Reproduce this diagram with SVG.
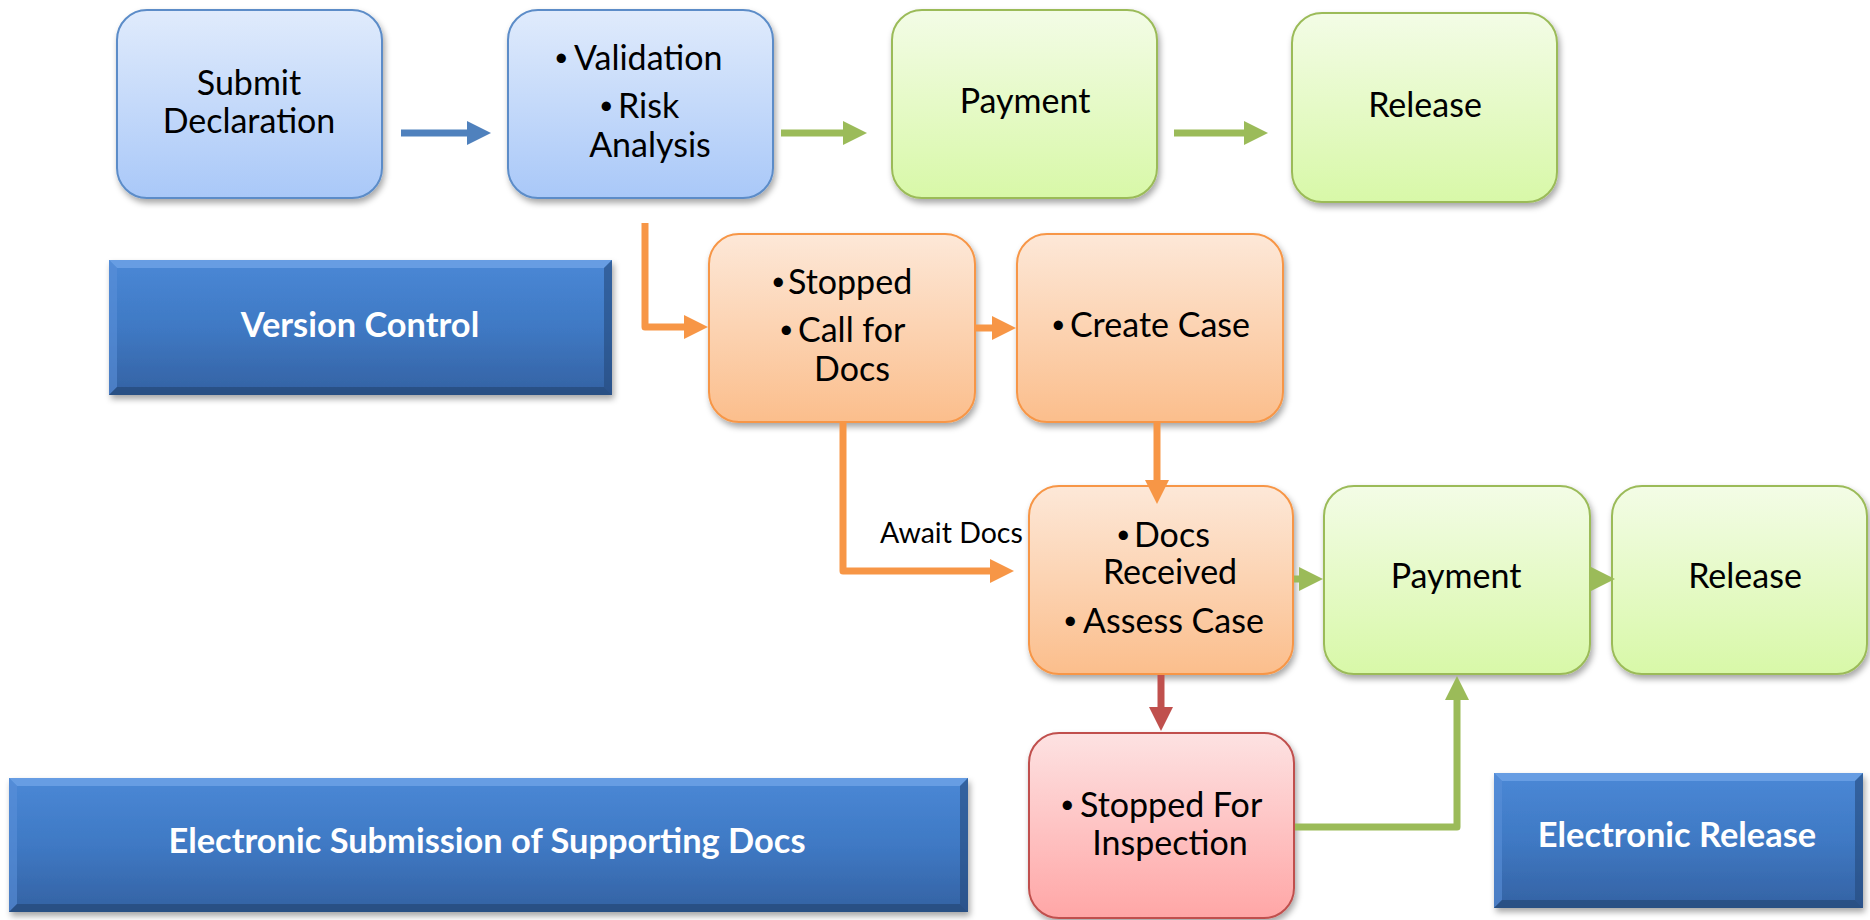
<svg xmlns="http://www.w3.org/2000/svg" width="1870" height="920" viewBox="0 0 1870 920">
<defs>
<style>
.t{font-family:Lato,"Liberation Sans",sans-serif;font-size:34px;fill:#000}
.b{font-size:25px}
.m{text-anchor:middle}
.w{font-family:Lato,"Liberation Sans",sans-serif;font-size:34.4px;font-weight:bold;fill:#fff;text-anchor:middle}
.lbl{font-family:Lato,"Liberation Sans",sans-serif;font-size:28.5px;fill:#000}
.bx{stroke-width:2}
.blue{fill:url(#gBlue);stroke:#5b8cc8}
.green{fill:url(#gGreen);stroke:#9bbb59}
.orange{fill:url(#gOrange);stroke:#f79646}
.red{fill:url(#gRed);stroke:#c0504d}
.bev{fill:url(#gBev)}
.c{fill:none;stroke-width:7}
</style>
<linearGradient id="gBlue" x1="0" y1="0" x2="0" y2="1"><stop offset="0" stop-color="#e0ebfc"/><stop offset="1" stop-color="#a9c8f8"/></linearGradient>
<linearGradient id="gGreen" x1="0" y1="0" x2="0" y2="1"><stop offset="0" stop-color="#f3fce6"/><stop offset="1" stop-color="#d8f8a8"/></linearGradient>
<linearGradient id="gOrange" x1="0" y1="0" x2="0" y2="1"><stop offset="0" stop-color="#fde8d8"/><stop offset="1" stop-color="#fbbe8c"/></linearGradient>
<linearGradient id="gRed" x1="0" y1="0" x2="0" y2="1"><stop offset="0" stop-color="#fde2e2"/><stop offset="1" stop-color="#ffa6a6"/></linearGradient>
<linearGradient id="gBev" x1="0" y1="0" x2="0" y2="1"><stop offset="0" stop-color="#4a88d6"/><stop offset="0.5" stop-color="#3f79c4"/><stop offset="1" stop-color="#3462a3"/></linearGradient>
<filter id="sh" x="-10%" y="-10%" width="125%" height="130%"><feDropShadow dx="2" dy="4" stdDeviation="3" flood-color="#000" flood-opacity="0.35"/></filter>
<marker id="aBlue" markerUnits="userSpaceOnUse" markerWidth="26" markerHeight="26" refX="1" refY="12" orient="auto" viewBox="0 0 26 24"><path d="M0,0 L24,12 L0,24 Z" fill="#4f81bd"/></marker>
<marker id="aGreen" markerUnits="userSpaceOnUse" markerWidth="26" markerHeight="26" refX="1" refY="12" orient="auto" viewBox="0 0 26 24"><path d="M0,0 L24,12 L0,24 Z" fill="#9bbb59"/></marker>
<marker id="aOrange" markerUnits="userSpaceOnUse" markerWidth="26" markerHeight="26" refX="1" refY="12" orient="auto" viewBox="0 0 26 24"><path d="M0,0 L24,12 L0,24 Z" fill="#f79646"/></marker>
<marker id="aRed" markerUnits="userSpaceOnUse" markerWidth="26" markerHeight="26" refX="1" refY="12" orient="auto" viewBox="0 0 26 24"><path d="M0,0 L24,12 L0,24 Z" fill="#c0504d"/></marker>
</defs>
<rect width="1870" height="920" fill="#fff"/>

<g id="submit">
<rect class="bx blue" x="117" y="10" width="265" height="188" rx="30" filter="url(#sh)"/>
<text class="t m" x="249" y="95">Submit</text>
<text class="t m" x="249" y="133">Declaration</text>
</g>

<g id="validation">
<rect class="bx blue" x="508" y="10" width="265" height="188" rx="30" filter="url(#sh)"/>
<text class="t" y="70"><tspan class="b" x="554" dy="-4">•</tspan><tspan x="574" dy="4">Validation</tspan></text>
<text class="t" y="118"><tspan class="b" x="599" dy="-4">•</tspan><tspan x="618" dy="4">Risk</tspan></text>
<text class="t m" x="650" y="157">Analysis</text>
</g>

<g id="payment1">
<rect class="bx green" x="892" y="10" width="265" height="188" rx="30" filter="url(#sh)"/>
<text class="t m" x="1025" y="113">Payment</text>
</g>

<g id="release1">
<rect class="bx green" x="1292" y="13" width="265" height="189" rx="30" filter="url(#sh)"/>
<text class="t m" x="1425" y="117">Release</text>
</g>

<g id="version-control">
<rect class="bev" x="109" y="260" width="503" height="135" filter="url(#sh)"/>
<polygon points="109,260 612,260 604,268 117,268" fill="#6fa3e6" opacity="0.8"/>
<polygon points="109,260 117,268 117,387 109,395" fill="#5a90d8" opacity="0.6"/>
<polygon points="612,260 612,395 604,387 604,268" fill="#24497c" opacity="0.6"/>
<polygon points="109,395 117,387 604,387 612,395" fill="#22446f" opacity="0.6"/>
<text class="w" x="360" y="337">Version Control</text>
</g>

<g id="stopped">
<rect class="bx orange" x="709" y="234" width="266" height="188" rx="30" filter="url(#sh)"/>
<text class="t" y="294"><tspan class="b" x="771" dy="-4">•</tspan><tspan x="788" dy="4">Stopped</tspan></text>
<text class="t" y="342"><tspan class="b" x="779" dy="-4">•</tspan><tspan x="798" dy="4">Call for</tspan></text>
<text class="t m" x="852" y="381">Docs</text>
</g>

<g id="create-case">
<rect class="bx orange" x="1017" y="234" width="266" height="188" rx="30" filter="url(#sh)"/>
<text class="t" y="337"><tspan class="b" x="1051" dy="-4">•</tspan><tspan x="1070" dy="4">Create Case</tspan></text>
</g>

<g id="docs-received">
<rect class="bx orange" x="1029" y="486" width="264" height="188" rx="30" filter="url(#sh)"/>
<text class="t" y="547"><tspan class="b" x="1116" dy="-4">•</tspan><tspan x="1134" dy="4">Docs</tspan></text>
<text class="t m" x="1170" y="584">Received</text>
<text class="t" y="633"><tspan class="b" x="1063" dy="-4">•</tspan><tspan x="1083" dy="4">Assess Case</tspan></text>
</g>

<g id="payment2">
<rect class="bx green" x="1324" y="486" width="266" height="188" rx="30" filter="url(#sh)"/>
<text class="t m" x="1456" y="588">Payment</text>
</g>

<g id="release2">
<rect class="bx green" x="1612" y="486" width="255" height="188" rx="30" filter="url(#sh)"/>
<text class="t m" x="1745" y="588">Release</text>
</g>

<g id="inspection">
<rect class="bx red" x="1029" y="733" width="265" height="185" rx="30" filter="url(#sh)"/>
<text class="t" y="817"><tspan class="b" x="1060" dy="-4">•</tspan><tspan x="1080" dy="4">Stopped For</tspan></text>
<text class="t m" x="1170" y="855">Inspection</text>
</g>

<g id="essd">
<rect class="bev" x="9" y="778" width="959" height="134" filter="url(#sh)"/>
<polygon points="9,778 968,778 960,786 17,786" fill="#6fa3e6" opacity="0.8"/>
<polygon points="9,778 17,786 17,904 9,912" fill="#5a90d8" opacity="0.6"/>
<polygon points="968,778 968,912 960,904 960,786" fill="#24497c" opacity="0.6"/>
<polygon points="9,912 17,904 960,904 968,912" fill="#22446f" opacity="0.6"/>
<text class="w" x="487" y="853">Electronic Submission of Supporting Docs</text>
</g>

<g id="electronic-release">
<rect class="bev" x="1494" y="773" width="369" height="135" filter="url(#sh)"/>
<polygon points="1494,773 1863,773 1855,781 1502,781" fill="#6fa3e6" opacity="0.8"/>
<polygon points="1494,773 1502,781 1502,900 1494,908" fill="#5a90d8" opacity="0.6"/>
<polygon points="1863,773 1863,908 1855,900 1855,781" fill="#24497c" opacity="0.6"/>
<polygon points="1494,908 1502,900 1855,900 1863,908" fill="#22446f" opacity="0.6"/>
<text class="w" x="1677" y="847">Electronic Release</text>
</g>

<g id="connectors">
<path class="c" d="M401,133 H468" stroke="#4f81bd" marker-end="url(#aBlue)"/>
<path class="c" d="M781,133 H844" stroke="#9bbb59" marker-end="url(#aGreen)"/>
<path class="c" d="M1174,133 H1245" stroke="#9bbb59" marker-end="url(#aGreen)"/>
<path class="c" d="M645,223 V327 H685" stroke="#f79646" stroke-linejoin="round" marker-end="url(#aOrange)"/>
<path class="c" d="M976,328 H993" stroke="#f79646" marker-end="url(#aOrange)"/>
<path class="c" d="M1157,423 V481" stroke="#f79646" marker-end="url(#aOrange)"/>
<path class="c" d="M843,423 V571 H991" stroke="#f79646" stroke-linejoin="round" marker-end="url(#aOrange)"/>
<path class="c" d="M1294,579 H1300" stroke="#9bbb59" marker-end="url(#aGreen)"/>
<path class="c" d="M1591,579 H1592" stroke="#9bbb59" marker-end="url(#aGreen)"/>
<path class="c" d="M1161,675 V708" stroke="#c0504d" marker-end="url(#aRed)"/>
<path class="c" d="M1295,827 H1457 V699" stroke="#9bbb59" stroke-linejoin="round" marker-end="url(#aGreen)"/>
<text class="lbl" x="880" y="543">Await Docs</text>
</g>
</svg>
